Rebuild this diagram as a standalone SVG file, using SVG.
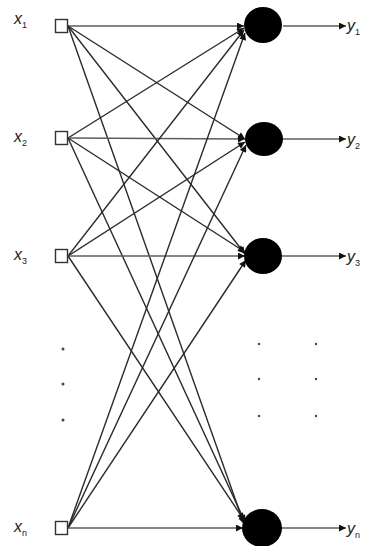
<svg xmlns="http://www.w3.org/2000/svg" width="366" height="546" viewBox="0 0 366 546">
<style>
.lbl{font-family:"Liberation Sans",Arial,sans-serif;font-size:16px;font-style:italic;fill:#222}
.sub{font-size:9px;font-style:normal}
.in{fill:#fff;stroke:#333;stroke-width:1.4}
.out{fill:#000}
.c{stroke:#2a2a2a;stroke-width:1.4;fill:none;marker-end:url(#ah)}
.h{stroke:#5e5e52;stroke-width:1.5;fill:none;marker-end:url(#ah)}
.dot{fill:#444}
</style>
<defs>
<marker id="ah" viewBox="0 0 10 10" refX="10" refY="5" markerWidth="8" markerHeight="7" markerUnits="userSpaceOnUse" orient="auto">
<path d="M0,0 L10,5 L0,10 z" fill="#111"/>
</marker>
</defs>
<g id="connectors">
<line class="h" x1="68" y1="26" x2="244" y2="26"/>
<line class="c" x1="68" y1="26" x2="245" y2="139"/>
<line class="c" x1="68" y1="26" x2="245" y2="254"/>
<line class="c" x1="68" y1="26" x2="244" y2="524"/>
<line class="c" x1="68" y1="138" x2="244" y2="28"/>
<line class="h" x1="68" y1="138" x2="245" y2="139"/>
<line class="c" x1="68" y1="138" x2="245" y2="252"/>
<line class="c" x1="68" y1="138" x2="245" y2="522"/>
<line class="c" x1="68" y1="256" x2="244" y2="30"/>
<line class="c" x1="68" y1="256" x2="245" y2="142"/>
<line class="h" x1="68" y1="256" x2="245" y2="256"/>
<line class="c" x1="68" y1="256" x2="244" y2="520"/>
<line class="c" x1="68" y1="528" x2="245" y2="33"/>
<line class="c" x1="68" y1="528" x2="246" y2="145"/>
<line class="c" x1="68" y1="528" x2="246" y2="260"/>
<line class="h" x1="68" y1="528" x2="243" y2="528"/>
<line class="h" x1="283" y1="26" x2="346" y2="26"/>
<line class="h" x1="283" y1="139" x2="346" y2="139"/>
<line class="h" x1="282" y1="256" x2="346" y2="256"/>
<line class="h" x1="281" y1="528" x2="346" y2="528"/>
</g>
<g id="x1"><rect class="in" x="55.5" y="19.5" width="12" height="13"/><text class="lbl" x="14" y="24">x<tspan class="sub" dy="4">1</tspan></text></g>
<g id="x2"><rect class="in" x="55.5" y="131.5" width="12" height="13"/><text class="lbl" x="14" y="142">x<tspan class="sub" dy="4">2</tspan></text></g>
<g id="x3"><rect class="in" x="55.5" y="249.5" width="12" height="13"/><text class="lbl" x="14" y="260">x<tspan class="sub" dy="4">3</tspan></text></g>
<g id="xn"><rect class="in" x="55.5" y="521.5" width="12" height="13"/><text class="lbl" x="14" y="532">x<tspan class="sub" dy="4">n</tspan></text></g>
<g id="y1"><ellipse class="out" cx="263" cy="25" rx="19" ry="18"/><text class="lbl" x="347" y="31">y<tspan class="sub" dy="4">1</tspan></text></g>
<g id="y2"><ellipse class="out" cx="264" cy="139" rx="19" ry="17"/><text class="lbl" x="347" y="145">y<tspan class="sub" dy="4">2</tspan></text></g>
<g id="y3"><ellipse class="out" cx="263" cy="256" rx="19" ry="18"/><text class="lbl" x="347" y="262">y<tspan class="sub" dy="4">3</tspan></text></g>
<g id="yn"><ellipse class="out" cx="262" cy="528" rx="20" ry="19"/><text class="lbl" x="347" y="534">y<tspan class="sub" dy="4">n</tspan></text></g>
<g id="dots">
<circle class="dot" cx="63" cy="349" r="1.5"/>
<circle class="dot" cx="63" cy="384" r="1.5"/>
<circle class="dot" cx="63" cy="420" r="1.5"/>
<circle class="dot" cx="259" cy="344" r="1.2"/>
<circle class="dot" cx="259" cy="379" r="1.2"/>
<circle class="dot" cx="259" cy="416" r="1.2"/>
<circle class="dot" cx="316" cy="344" r="1.2"/>
<circle class="dot" cx="316" cy="379" r="1.2"/>
<circle class="dot" cx="316" cy="416" r="1.2"/>
</g>
</svg>
